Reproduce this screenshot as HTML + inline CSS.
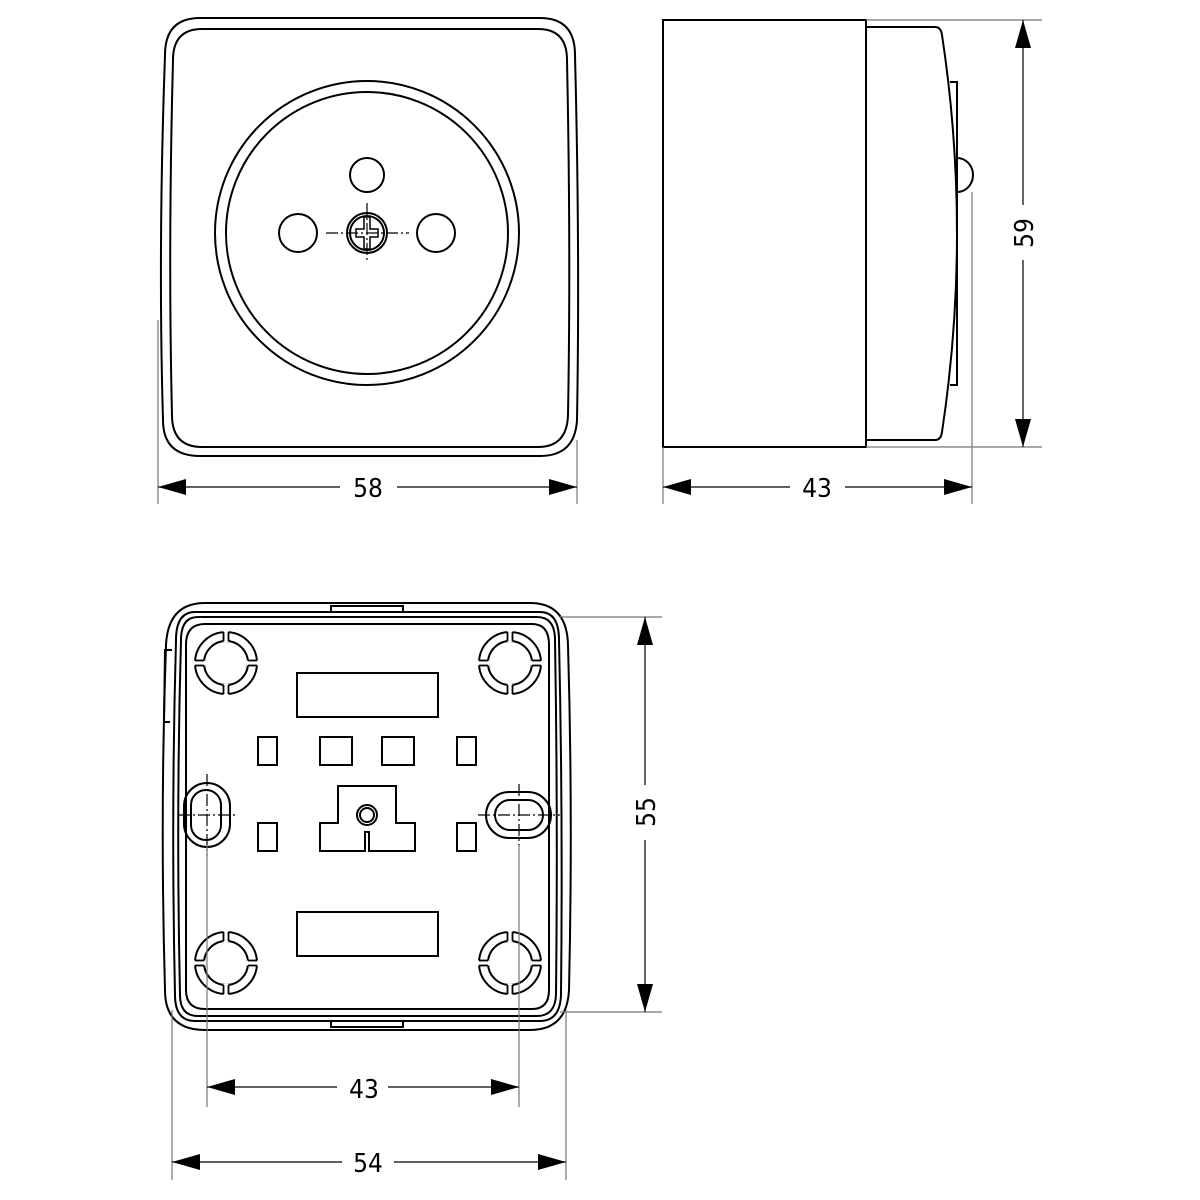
<!DOCTYPE html>
<html><head><style>html,body{margin:0;padding:0;background:#fff}svg{display:block}</style></head>
<body>
<svg width="1200" height="1200" viewBox="0 0 1200 1200" xmlns="http://www.w3.org/2000/svg">
<defs>
<marker id="a" viewBox="0 0 28 16" refX="28" refY="8" markerWidth="28" markerHeight="16" markerUnits="userSpaceOnUse" orient="auto-start-reverse"><path d="M0,0 L28,8 L0,16 Z" fill="#000"/></marker>
<g id="mh">
<circle r="31" fill="none" stroke="#000" stroke-width="2"/>
<circle r="22" fill="#fff" stroke="#000" stroke-width="2"/>
<g stroke="#fff" stroke-width="5"><line x1="0" y1="-21" x2="0" y2="-32"/><line x1="0" y1="21" x2="0" y2="32"/><line x1="-21" y1="0" x2="-32" y2="0"/><line x1="21" y1="0" x2="32" y2="0"/></g>
<g stroke="#000" stroke-width="1.8">
<line x1="-2.5" y1="-22" x2="-2.5" y2="-31"/><line x1="2.5" y1="-22" x2="2.5" y2="-31"/>
<line x1="-2.5" y1="22" x2="-2.5" y2="31"/><line x1="2.5" y1="22" x2="2.5" y2="31"/>
<line y1="-2.5" x1="-22" y2="-2.5" x2="-31"/><line y1="2.5" x1="-22" y2="2.5" x2="-31"/>
<line y1="-2.5" x1="22" y2="-2.5" x2="31"/><line y1="2.5" x1="22" y2="2.5" x2="31"/>
</g>
</g>
</defs>
<g fill="none" stroke="#000" stroke-width="2">
<path d="M200,18 L540,18 Q575,18 575,55 Q580,250 577,420 Q575,456 540,456 L200,456 Q163,456 163,420 Q158,250 165,55 Q165,18 200,18 Z"/>
<path d="M202,29 L538,29 Q567,29 567,60 Q571,250 568,415 Q567,447 538,447 L202,447 Q172,447 172,415 Q168,250 173,60 Q173,29 202,29 Z"/>
<circle cx="367" cy="233" r="152"/>
<circle cx="367" cy="233" r="141"/>
<circle cx="367" cy="175" r="17"/>
<circle cx="298" cy="233" r="19"/>
<circle cx="436" cy="233" r="19"/>
<circle cx="367" cy="233" r="20"/>
<circle cx="367" cy="233" r="17"/>
<path d="M364,217 L370,217 L370,229 L378,229 L378,237 L370,237 L370,249 L364,249 L364,237 L356,237 L356,229 L364,229 Z" stroke-width="1.5"/>
</g>
<g stroke="#000" stroke-width="1.2" stroke-dasharray="12,3,2,3" fill="none">
<line x1="326" y1="233" x2="409" y2="233"/>
<line x1="367" y1="203" x2="367" y2="263"/>
</g>
<g fill="none" stroke="#000" stroke-width="2">
<rect x="663" y="20" width="203" height="427"/>
<path d="M866,27 L935,27 Q941,27 942,35 Q972,233 942,432 Q941,440 935,440 L866,440"/>
<path d="M950,82 L957,82 L957,385 L950,385"/>
<path d="M957,158 A16,17 0 0 1 957,192"/>
</g>
<g stroke="#777" stroke-width="1.2" fill="none">
<line x1="866" y1="20" x2="1042" y2="20"/>
<line x1="866" y1="447" x2="1042" y2="447"/>
<line x1="972" y1="192" x2="972" y2="504"/>
<line x1="663" y1="447" x2="663" y2="504"/>
<line x1="158" y1="320" x2="158" y2="504"/>
<line x1="577" y1="440" x2="577" y2="504"/>
</g>
<g stroke="#000" stroke-width="1.2" fill="none">
<line x1="1023" y1="205" x2="1023" y2="20" marker-end="url(#a)"/>
<line x1="1023" y1="260" x2="1023" y2="447" marker-end="url(#a)"/>
<line x1="340" y1="487" x2="158" y2="487" marker-end="url(#a)"/>
<line x1="397" y1="487" x2="577" y2="487" marker-end="url(#a)"/>
<line x1="790" y1="487" x2="663" y2="487" marker-end="url(#a)"/>
<line x1="845" y1="487" x2="972" y2="487" marker-end="url(#a)"/>
</g>
<g font-family="'DejaVu Sans Condensed', 'Liberation Sans', sans-serif" font-size="26" fill="#000" text-anchor="middle">
<text x="368" y="497">58</text>
<text x="817" y="497">43</text>
<text transform="translate(1033,233) rotate(-90)">59</text>
<text transform="translate(655,812) rotate(-90)">55</text>
<text x="364" y="1098">43</text>
<text x="368" y="1172">54</text>
</g>
<g fill="none" stroke="#000" stroke-width="2">
<path d="M205,603 L530,603 Q567,603 568,645 Q573,815 569,990 Q567,1030 530,1030 L205,1030 Q165,1030 165,990 Q160,815 166,645 Q168,603 205,603 Z"/>
<path d="M195,612 L540,612 Q559,612 559,640 Q563,815 561,995 Q560,1021 540,1021 L195,1021 Q175,1021 175,995 Q171,815 176,640 Q176,612 195,612 Z"/>
<path d="M198,617 L537,617 Q555,617 555,640 Q558,815 556,995 Q555,1016 537,1016 L198,1016 Q180,1016 180,995 Q176,815 181,640 Q181,617 198,617 Z"/>
<path d="M205,624 L532,624 Q549,624 549,645 L549,990 Q549,1009 532,1009 L205,1009 Q186,1009 186,990 L186,645 Q186,624 205,624 Z"/>
<path d="M331,612 L331,606 L403,606 L403,612"/>
<path d="M331,1021 L331,1027 L403,1027 L403,1021"/>
<path d="M172,650 L165,650 L164,722 L170,722"/>
<rect x="297" y="673" width="141" height="44"/>
<rect x="297" y="912" width="141" height="44"/>
<rect x="258" y="737" width="19" height="28"/>
<rect x="320" y="737" width="32" height="28"/>
<rect x="382" y="737" width="32" height="28"/>
<rect x="457" y="737" width="19" height="28"/>
<rect x="258" y="823" width="19" height="28"/>
<rect x="457" y="823" width="19" height="28"/>
<path d="M338,786 L396,786 L396,823 L415,823 L415,851 L369,851 L369,832 L365,832 L365,851 L320,851 L320,823 L338,823 Z"/>
<circle cx="367" cy="815" r="10"/>
<circle cx="367" cy="815" r="7"/>
<rect x="184" y="783" width="46" height="64" rx="23"/>
<rect x="191" y="790" width="30" height="50" rx="15"/>
<rect x="486" y="792" width="65" height="46" rx="23"/>
<rect x="495" y="800" width="48" height="30" rx="15"/>
</g>
<use href="#mh" x="226" y="663"/>
<use href="#mh" x="510" y="663"/>
<use href="#mh" x="226" y="963"/>
<use href="#mh" x="510" y="963"/>
<g stroke="#000" stroke-width="1.2" stroke-dasharray="12,3,2,3" fill="none">
<line x1="178" y1="815" x2="236" y2="815"/>
<line x1="207" y1="774" x2="207" y2="856"/>
<line x1="478" y1="815" x2="560" y2="815"/>
<line x1="519" y1="784" x2="519" y2="846"/>
</g>
<g stroke="#777" stroke-width="1.2" fill="none">
<line x1="560" y1="617" x2="662" y2="617"/>
<line x1="560" y1="1012" x2="662" y2="1012"/>
<line x1="207" y1="845" x2="207" y2="1107"/>
<line x1="519" y1="845" x2="519" y2="1107"/>
<line x1="172" y1="1010" x2="172" y2="1180"/>
<line x1="566" y1="1010" x2="566" y2="1180"/>
</g>
<g stroke="#000" stroke-width="1.2" fill="none">
<line x1="645" y1="785" x2="645" y2="617" marker-end="url(#a)"/>
<line x1="645" y1="840" x2="645" y2="1012" marker-end="url(#a)"/>
<line x1="337" y1="1087" x2="207" y2="1087" marker-end="url(#a)"/>
<line x1="388" y1="1087" x2="519" y2="1087" marker-end="url(#a)"/>
<line x1="342" y1="1162" x2="172" y2="1162" marker-end="url(#a)"/>
<line x1="394" y1="1162" x2="566" y2="1162" marker-end="url(#a)"/>
</g>
</svg>
</body></html>
